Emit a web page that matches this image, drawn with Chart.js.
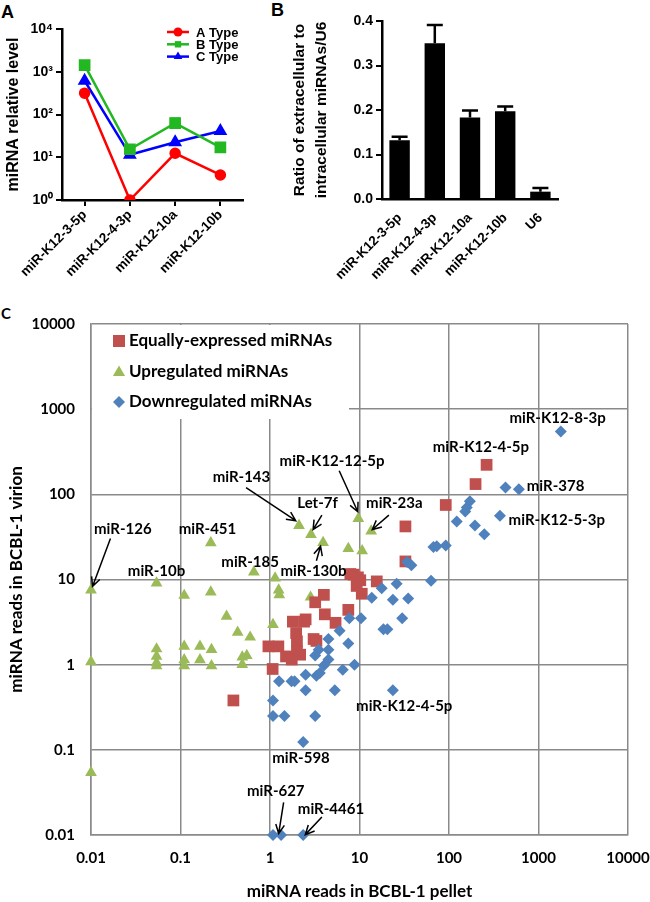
<!DOCTYPE html>
<html>
<head>
<meta charset="utf-8">
<script src="https://cdn.jsdelivr.net/npm/chart.js@4.4.1/dist/chart.umd.min.js"></script>
<style>
  body { margin: 0; width: 650px; height: 902px; background: #fff; position: relative; overflow: hidden; }
  canvas { position: absolute; }
  #chartA { left: 0; top: 0; }
  #chartB { left: 270px; top: 0; }
  #chartC { left: 0; top: 300px; }
  .tag { position: absolute; font-weight: bold; color: #000; }
</style>
</head>
<body>
<div class="tag" style="left:1px;top:2px;font:bold 18px 'Liberation Sans'">A</div>
<div class="tag" style="left:271px;top:0px;font:bold 18px 'Liberation Sans'">B</div>
<div class="tag" style="left:1px;top:304px;font:bold 15px Lato">C</div>
<canvas id="chartA" width="270" height="300"></canvas>
<canvas id="chartB" width="380" height="300"></canvas>
<canvas id="chartC" width="650" height="602"></canvas>
<script>
// ---- panel A data
const catA = ['miR-K12-3-5p', 'miR-K12-4-3p', 'miR-K12-10a', 'miR-K12-10b'];
const namesA = ['A Type', 'B Type', 'C Type'];
const typeA = [316, 1.0, 12.4, 3.85];
const typeB = [1430, 15.4, 63, 17.1];
const typeC = [615, 11.4, 22.5, 41];
const typeBLow = [null, null, 53, null];
const typeBHigh = [null, null, 80, null];
const ticksA = [1, 10, 100, 1000, 10000];

// ---- panel B data
const catB = ['miR-K12-3-5p', 'miR-K12-4-3p', 'miR-K12-10a', 'miR-K12-10b', 'U6'];
const ratio = [0.132, 0.350, 0.183, 0.197, 0.0165];
const ratioErr = [0.008, 0.041, 0.016, 0.011, 0.0085];

// ---- panel C data  [pellet, virion]
const ticksC = [0.01, 0.1, 1, 10, 100, 1000, 10000];
const namesC = ['Equally-expressed miRNAs', 'Upregulated miRNAs', 'Downregulated miRNAs'];
const equalPts = [
  [263, 222], [198, 132], [92, 75], [32.6, 42], [32.6, 16.3], [15.6, 9.5],
  [8.6, 11.4], [7.9, 11.6], [10.2, 9.8], [9.3, 8.4], [10.6, 6.8], [9.6, 10.6],
  [4.0, 6.6], [3.2, 5.4], [2.5, 3.4], [4.1, 3.9], [5.4, 3.1], [7.5, 4.4],
  [1.8, 3.2], [2.4, 3.2], [1.96, 2.35], [2.0, 1.88], [2.0, 1.43], [3.07, 2.0], [3.3, 1.9],
  [0.96, 1.64], [1.24, 1.64], [1.51, 1.25], [1.75, 1.15], [2.17, 1.31], [1.07, 0.89], [0.39, 0.38]
];
const upPts = [
  [0.01, 7.5], [0.054, 9.1], [0.11, 6.5], [0.218, 26.9], [0.218, 7.1], [0.66, 12.2],
  [1.14, 10.4], [1.25, 7.5], [1.27, 6.6], [2.11, 43], [2.87, 33.7], [3.92, 27.2],
  [2.84, 6.2], [7.5, 23.1], [9.7, 52], [10.7, 21.7], [13.5, 37],
  [0.01, 0.054], [0.01, 1.08], [0.054, 1.53], [0.054, 1.25], [0.054, 1.05], [0.054, 0.97],
  [0.11, 1.64], [0.11, 1.14], [0.11, 0.97], [0.165, 1.64], [0.165, 1.14],
  [0.222, 1.5], [0.222, 0.97], [0.327, 3.7], [0.435, 2.4], [0.60, 2.1],
  [0.49, 1.23], [0.49, 1.0], [0.55, 1.28], [1.08, 2.95]
];
const downPts = [
  [1775, 547], [428, 120], [604, 115], [371, 56], [171, 83], [158, 70], [152, 63],
  [122, 48], [195, 43], [248, 34], [67, 24], [73, 24.5], [92, 25], [63, 9.7],
  [34, 16], [38, 14.7], [26, 8.9], [17.7, 7.9], [13.7, 6.1], [23.6, 5.8], [35, 6.0],
  [10.4, 3.5], [30, 3.5], [7.7, 3.5], [6.0, 2.5], [18.5, 2.6], [20.5, 2.6],
  [7.5, 1.77], [4.5, 2.0], [3.5, 1.5], [4.5, 1.5], [3.2, 1.28], [4.5, 1.15], [4.0, 0.98],
  [6.5, 0.87], [8.8, 1.0], [2.5, 0.76], [3.3, 0.74], [3.6, 0.8], [5.3, 0.5], [23.6, 0.5], [2.5, 0.5],
  [1.08, 0.38], [1.08, 0.25], [1.45, 0.25], [3.2, 0.25], [1.74, 0.64], [1.88, 0.64], [1.26, 0.64],
  [2.35, 0.124], [1.08, 0.01], [1.33, 0.01], [2.35, 0.01]
];

// labels + arrows on panel C, in data units
const notesC = [
  {text: 'miR-126', at: [0.0227, 39], from: [0.0165, 30.3], to: [0.0104, 8.3]},
  {text: 'miR-451', at: [0.2, 39]},
  {text: 'miR-10b', at: [0.054, 12.5]},
  {text: 'miR-185', at: [0.6, 15.8]},
  {text: 'miR-143', at: [0.48, 158], from: [0.54, 120], to: [1.94, 49]},
  {text: 'Let-7f', at: [3.4, 79], from: [3.8, 57], to: [3.03, 38.6]},
  {text: 'miR-130b', at: [3.06, 12.4], from: [3.3, 16.6], to: [3.67, 24.6]},
  {text: 'miR-K12-12-5p', at: [4.94, 245], from: [5.93, 189], to: [9.57, 62.4]},
  {text: 'miR-23a', at: [24.5, 79], from: [21.3, 57], to: [13.9, 38.6]},
  {text: 'miR-K12-8-3p', at: [1633, 778]},
  {text: 'miR-K12-4-5p', at: [227, 362]},
  {text: 'miR-378', at: [1550, 126]},
  {text: 'miR-K12-5-3p', at: [1600, 49.8]},
  {text: 'miR-K12-4-5p', at: [31.6, 0.324]},
  {text: 'miR-598', at: [2.22, 0.080]},
  {text: 'miR-627', at: [1.16, 0.0326], from: [1.42, 0.0242], to: [1.25, 0.0104]},
  {text: 'miR-4461', at: [4.8, 0.0202], from: [3.8, 0.0163], to: [2.48, 0.0101]}
];

const red = '#ff0000', green = '#22b822', blue = '#0000ff';
const redC = '#c0504d', greenC = '#9bbb59', blueC = '#4f81bd';
const sup = ['\u2070', '\u00b9', '\u00b2', '\u00b3', '\u2074'];

Chart.defaults.font.family = "'Liberation Sans', Arial, sans-serif";
Chart.defaults.color = '#000';

function marker(ctx, style, x, y, r, color) {
  ctx.save();
  ctx.fillStyle = color;
  ctx.beginPath();
  if (style === 'rect') {
    const s = r * Math.SQRT1_2;
    ctx.rect(x - s, y - s, 2 * s, 2 * s);
  } else if (style === 'triangle') {
    ctx.moveTo(x, y - r);
    ctx.lineTo(x + r * 0.866, y + r / 2);
    ctx.lineTo(x - r * 0.866, y + r / 2);
  } else if (style === 'rectRot') {
    ctx.moveTo(x - r, y); ctx.lineTo(x, y - r); ctx.lineTo(x + r, y); ctx.lineTo(x, y + r);
  } else {
    ctx.arc(x, y, r, 0, Math.PI * 2);
  }
  ctx.closePath();
  ctx.fill();
  ctx.restore();
}

function decadeTicks(list) {
  return axis => { axis.ticks = list.map(v => ({value: v})); };
}

// ---------------- panel A
const legendA = {
  id: 'legendA',
  afterDraw(chart) {
    const ctx = chart.ctx;
    const styles = ['circle', 'rect', 'triangle'];
    const cols = [red, green, blue];
    namesA.forEach((name, i) => {
      const y = 32 + i * 12.3;
      ctx.save();
      ctx.strokeStyle = cols[i];
      ctx.lineWidth = 2.5;
      ctx.beginPath(); ctx.moveTo(167, y); ctx.lineTo(189, y); ctx.stroke();
      marker(ctx, styles[i], 178, y, i === 2 ? 5 : 4.5, cols[i]);
      ctx.fillStyle = '#000';
      ctx.font = "bold 13px 'Liberation Sans'";
      ctx.textBaseline = 'middle';
      ctx.fillText(name, 196, y + 1);
      ctx.restore();
    });
  }
};
const errA = {
  id: 'errA',
  afterDatasetsDraw(chart) {
    const ctx = chart.ctx, xs = chart.scales.x, ys = chart.scales.y;
    ctx.save();
    ctx.strokeStyle = green;
    ctx.lineWidth = 2.5;
    typeBLow.forEach((lo, i) => {
      if (lo === null) return;
      const x = xs.getPixelForValue(i);
      const y1 = ys.getPixelForValue(lo), y2 = ys.getPixelForValue(typeBHigh[i]);
      ctx.beginPath();
      ctx.moveTo(x, y1); ctx.lineTo(x, y2);
      ctx.moveTo(x - 5, y1); ctx.lineTo(x + 5, y1);
      ctx.moveTo(x - 5, y2); ctx.lineTo(x + 5, y2);
      ctx.stroke();
    });
    ctx.restore();
  }
};

new Chart(document.getElementById('chartA'), {
  type: 'line',
  data: {
    labels: catA,
    datasets: [
      {label: namesA[0], data: typeA, borderColor: red, backgroundColor: red, pointStyle: 'circle', pointRadius: 4.5, borderWidth: 2.5},
      {label: namesA[1], data: typeB, borderColor: green, backgroundColor: green, pointStyle: 'rect', pointRadius: 6.5, borderWidth: 2.5},
      {label: namesA[2], data: typeC, borderColor: blue, backgroundColor: blue, pointStyle: 'triangle', pointRadius: 5.5, borderWidth: 2.5}
    ]
  },
  options: {
    responsive: false,
    animation: false,
    layout: {padding: {top: 29, right: 27, left: 0, bottom: 0}},
    plugins: {legend: {display: false}, tooltip: {enabled: false}},
    scales: {
      x: {
        offset: true,
        grid: {display: true, drawOnChartArea: false, drawTicks: true, tickLength: 6, color: '#000', lineWidth: 2},
        border: {color: '#000', width: 2.5},
        ticks: {font: {size: 13.5, weight: 'bold'}, maxRotation: 45, minRotation: 45, padding: 1, autoSkip: false},
        afterFit: s => { s.height = 100; }
      },
      y: {
        type: 'logarithmic',
        min: 1, max: 10000,
        afterBuildTicks: decadeTicks(ticksA),
        grid: {display: true, drawOnChartArea: false, drawTicks: true, tickLength: 6, color: '#000', lineWidth: 2},
        border: {color: '#000', width: 2.5},
        ticks: {font: {size: 14, weight: 'bold'}, padding: 3, autoSkip: false,
          callback: v => '10' + sup[Math.round(Math.log10(v))]},
        title: {display: true, text: 'miRNA relative level', font: {size: 16, weight: 'bold'}, padding: {top: 4, bottom: 0}},
        afterFit: s => { s.width = 62; }
      }
    }
  },
  plugins: [legendA, errA]
});

// ---------------- panel B
const errB = {
  id: 'errB',
  afterDatasetsDraw(chart) {
    const ctx = chart.ctx, xs = chart.scales.x, ys = chart.scales.y;
    ctx.save();
    ctx.strokeStyle = '#000';
    ctx.lineWidth = 2.5;
    ratio.forEach((v, i) => {
      const x = xs.getPixelForValue(i);
      const y1 = ys.getPixelForValue(v), y2 = ys.getPixelForValue(v + ratioErr[i]);
      ctx.beginPath();
      ctx.moveTo(x, y1); ctx.lineTo(x, y2);
      ctx.moveTo(x - 8, y2); ctx.lineTo(x + 8, y2);
      ctx.stroke();
    });
    ctx.restore();
  }
};

new Chart(document.getElementById('chartB'), {
  type: 'bar',
  data: {
    labels: catB,
    datasets: [{data: ratio, backgroundColor: '#000', barPercentage: 0.58, categoryPercentage: 1}]
  },
  options: {
    responsive: false,
    animation: false,
    layout: {padding: {top: 21, right: 92, left: 0, bottom: 0}},
    plugins: {legend: {display: false}, tooltip: {enabled: false}},
    scales: {
      x: {
        offset: true,
        grid: {display: false},
        border: {color: '#000', width: 2.5},
        ticks: {font: {size: 13.5, weight: 'bold'}, maxRotation: 45, minRotation: 45, padding: 3, autoSkip: false},
        afterFit: s => { s.height = 101; }
      },
      y: {
        min: 0, max: 0.4,
        grid: {display: true, drawOnChartArea: false, drawTicks: true, tickLength: 6, color: '#000', lineWidth: 2},
        border: {color: '#000', width: 2.5},
        ticks: {stepSize: 0.1, font: {size: 14, weight: 'bold'}, padding: 3, callback: v => v.toFixed(1)},
        title: {display: true, text: ['Ratio of extracellular to', 'intracellular miRNAs/U6'],
          font: {size: 15.5, weight: 'bold', lineHeight: 1.42}, padding: {top: 19, bottom: 0}},
        afterFit: s => { s.width = 112; }
      }
    }
  },
  plugins: [errB]
});

// ---------------- panel C
const legendC = {
  id: 'legendC',
  beforeDatasetsDraw(chart) {
    const ctx = chart.ctx, a = chart.chartArea;
    ctx.save();
    ctx.fillStyle = '#fff';
    ctx.fillRect(a.left + 1, a.top + 1, 348 - a.left, 118 - a.top);
    const styles = ['rect', 'triangle', 'rectRot'];
    const cols = [redC, greenC, blueC];
    const sizes = [8.5, 7, 6];
    namesC.forEach((name, i) => {
      const y = 41 + i * 30.5;
      marker(ctx, styles[i], 119, y + (i === 1 ? 1 : 0), sizes[i], cols[i]);
      ctx.fillStyle = '#000';
      ctx.font = 'bold 17px Lato';
      ctx.textBaseline = 'middle';
      ctx.fillText(name, 129, y);
    });
    ctx.restore();
  }
};
const notesPlugin = {
  id: 'notesC',
  afterDatasetsDraw(chart) {
    const ctx = chart.ctx, xs = chart.scales.x, ys = chart.scales.y;
    const px = p => [xs.getPixelForValue(p[0]), ys.getPixelForValue(p[1])];
    ctx.save();
    ctx.font = 'bold 15px Lato';
    ctx.textAlign = 'center';
    ctx.textBaseline = 'middle';
    ctx.fillStyle = '#000';
    ctx.strokeStyle = '#000';
    ctx.lineWidth = 1.5;
    notesC.forEach(n => {
      const [tx, ty] = px(n.at);
      ctx.fillText(n.text, tx, ty);
      if (n.from) {
        const [x1, y1] = px(n.from), [x2, y2] = px(n.to);
        const ang = Math.atan2(y2 - y1, x2 - x1);
        ctx.beginPath();
        ctx.moveTo(x1, y1); ctx.lineTo(x2, y2);
        ctx.moveTo(x2 - 10 * Math.cos(ang - 0.45), y2 - 10 * Math.sin(ang - 0.45));
        ctx.lineTo(x2, y2);
        ctx.lineTo(x2 - 10 * Math.cos(ang + 0.45), y2 - 10 * Math.sin(ang + 0.45));
        ctx.stroke();
      }
    });
    ctx.restore();
  }
};

const toXY = pts => pts.map(p => ({x: p[0], y: p[1]}));
const gridC = {color: '#8a8a8a', lineWidth: 1.5, drawTicks: false};

new Chart(document.getElementById('chartC'), {
  type: 'scatter',
  data: {
    datasets: [
      {label: namesC[2], data: toXY(downPts), pointStyle: 'rectRot', pointRadius: 6, backgroundColor: blueC, borderWidth: 0, clip: false},
      {label: namesC[0], data: toXY(equalPts), pointStyle: 'rect', pointRadius: 8.3, backgroundColor: redC, borderWidth: 0, clip: false},
      {label: namesC[1], data: toXY(upPts), pointStyle: 'triangle', pointRadius: 6.8, backgroundColor: greenC, borderWidth: 0, clip: false}
    ]
  },
  options: {
    responsive: false,
    animation: false,
    layout: {padding: {top: 24, right: 22, left: 0, bottom: 0}},
    plugins: {legend: {display: false}, tooltip: {enabled: false}},
    scales: {
      x: {
        type: 'logarithmic',
        min: 0.01, max: 10000,
        afterBuildTicks: decadeTicks(ticksC),
        grid: gridC,
        border: {color: '#8a8a8a', width: 1.5},
        ticks: {font: {family: 'Lato', size: 15, weight: 'bold'}, padding: 14, autoSkip: false, maxRotation: 0,
          callback: v => String(v)},
        title: {display: true, text: 'miRNA reads in BCBL-1 pellet', font: {family: 'Lato', size: 17, weight: 'bold'}, padding: {top: 0, bottom: 0}},
        afterFit: s => { s.height = 67; s.paddingLeft = 0; s.paddingRight = 0; }
      },
      y: {
        type: 'logarithmic',
        min: 0.01, max: 10000,
        afterBuildTicks: decadeTicks(ticksC),
        grid: gridC,
        border: {color: '#8a8a8a', width: 1.5},
        ticks: {font: {family: 'Lato', size: 15, weight: 'bold'}, padding: 16, autoSkip: false,
          callback: v => String(v)},
        title: {display: true, text: 'miRNA reads in BCBL-1 virion', font: {family: 'Lato', size: 17, weight: 'bold'}, padding: {top: 6, bottom: 0}},
        afterFit: s => { s.width = 91; s.paddingTop = 0; s.paddingBottom = 0; }
      }
    }
  },
  plugins: [legendC, notesPlugin]
});
</script>
</body>
</html>
